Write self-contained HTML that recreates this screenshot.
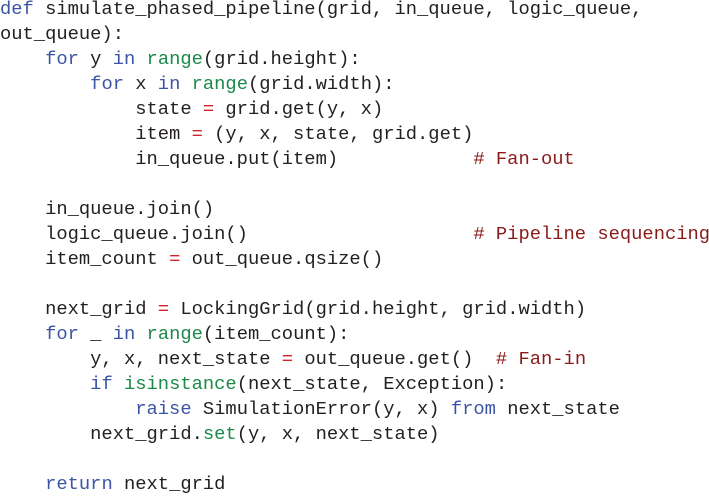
<!DOCTYPE html>
<html><head><meta charset="utf-8"><style>
html,body{margin:0;padding:0;background:#fff;width:709px;height:494px;overflow:hidden}
pre{position:absolute;left:0;top:-3px;margin:0;font-family:"Liberation Mono",monospace;font-size:18.8px;line-height:25px;color:#231f20;letter-spacing:0}
.k{color:#3b55a5}.b{color:#1b8a4a}.o{color:#d2232a}.c{color:#8b1a1a}
</style></head><body><pre><span class="k">def</span> simulate_phased_pipeline(grid, in_queue, logic_queue,
out_queue):
    <span class="k">for</span> y <span class="k">in</span> <span class="b">range</span>(grid.height):
        <span class="k">for</span> x <span class="k">in</span> <span class="b">range</span>(grid.width):
            state <span class="o">=</span> grid.get(y, x)
            item <span class="o">=</span> (y, x, state, grid.get)
            in_queue.put(item)            <span class="c"># Fan-out</span>

    in_queue.join()
    logic_queue.join()                    <span class="c"># Pipeline sequencing</span>
    item_count <span class="o">=</span> out_queue.qsize()

    next_grid <span class="o">=</span> LockingGrid(grid.height, grid.width)
    <span class="k">for</span> _ <span class="k">in</span> <span class="b">range</span>(item_count):
        y, x, next_state <span class="o">=</span> out_queue.get()  <span class="c"># Fan-in</span>
        <span class="k">if</span> <span class="b">isinstance</span>(next_state, Exception):
            <span class="k">raise</span> SimulationError(y, x) <span class="k">from</span> next_state
        next_grid.<span class="b">set</span>(y, x, next_state)

    <span class="k">return</span> next_grid
</pre></body></html>
